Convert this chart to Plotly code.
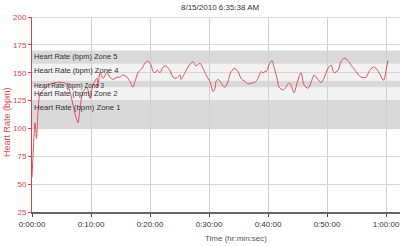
import plotly.graph_objects as go

# ---- data ----
time_sec = [0, 10, 25, 31, 46, 61, 81, 122, 183, 234, 285, 353, 386, 417, 447, 468, 488, 519, 559, 590,
            620, 661, 671, 692, 722, 763, 793, 824, 864, 895, 925, 966, 997, 1027, 1047, 1078, 1119, 1149,
            1180, 1210, 1231, 1251, 1271, 1302, 1332, 1363, 1403, 1434, 1464, 1505, 1515, 1556, 1586, 1637,
            1668, 1708, 1739, 1770, 1810, 1841, 1861, 1871, 1892, 1922, 1942, 1963, 1993, 2024, 2064, 2095,
            2125, 2166, 2197, 2227, 2268, 2298, 2329, 2349, 2369, 2390, 2410, 2441, 2461, 2492, 2512, 2553,
            2583, 2614, 2634, 2664, 2705, 2736, 2766, 2807, 2837, 2868, 2908, 2939, 2969, 3010, 3041, 3071,
            3112, 3142, 3173, 3214, 3244, 3295, 3346, 3397, 3427, 3468, 3498, 3529, 3570, 3580, 3600, 3620]
heart_rate = [56, 75, 100, 105, 91, 115, 131, 135, 139.5, 141, 141.5, 140, 133, 121, 110, 105, 118, 133, 137, 127,
              139, 145, 137, 150, 145, 150, 146, 144, 146, 146, 148, 146, 142, 137, 142, 150, 154, 158.7,
              160.5, 157, 151, 150, 152.4, 150, 155, 156, 152, 146, 145, 148, 144, 150, 155, 160,
              156, 158.7, 154, 148, 142, 133, 136, 142, 144, 141, 138, 137, 142, 151, 154, 151,
              145, 142, 140, 140.5, 141.5, 145, 151, 150, 151, 152, 157, 161, 155, 145, 137, 134.5,
              137, 141, 139, 132, 143.5, 150, 139, 136, 141, 148, 144, 141, 145, 154, 157, 150,
              152, 160, 163, 161, 157, 151, 146, 146, 151, 155, 154, 150, 143.5, 143.5, 152, 161]

zone_names = ["Heart Rate (bpm) Zone 1", "Heart Rate (bpm) Zone 2", "Heart Rate (bpm) Zone 3",
              "Heart Rate (bpm) Zone 4", "Heart Rate (bpm) Zone 5"]
zone_lo = [100, 125, 137, 143, 158]
zone_hi = [125, 137, 143, 158, 170]

x_tick_vals = [0, 600, 1200, 1800, 2400, 3000, 3600]
x_tick_text = ["0:00:00", "0:10:00", "0:20:00", "0:30:00", "0:40:00", "0:50:00", "1:00:00"]
y_tick_vals = [25, 50, 75, 100, 125, 150, 175, 200]

title_text = "8/15/2010 6:35:38 AM"
x_title = "Time (hr:min:sec)"
y_title = "Heart Rate (bpm)"

# ---- styling ----
RED = "#e0404c"
LINE_RED = "#e4505a"
FONT = "Liberation Sans"
zone_fill = ["#d9d9d9", "#f2f2f2", "#d9d9d9", "#f2f2f2", "#d9d9d9"]
zone_font = [7.8, 7.5, 6.3, 7.6, 7.5]

fig = go.Figure()
fig.add_trace(go.Scatter(x=time_sec, y=heart_rate, mode="lines",
                         line=dict(color=LINE_RED, width=1, shape="spline", smoothing=0.7),
                         hoverinfo="skip", showlegend=False))

for i, name in enumerate(zone_names):
    fig.add_shape(type="rect", xref="paper", x0=0, x1=1, yref="y", y0=zone_lo[i], y1=zone_hi[i],
                  fillcolor=zone_fill[i], line=dict(width=0), layer="below")
    fig.add_annotation(text=name, xref="paper", x=0, xanchor="left", xshift=0,
                       yref="y", y=zone_hi[i], yanchor="top", yshift=1 if zone_font[i] < 7 else 0,
                       showarrow=False, font=dict(family=FONT, size=zone_font[i], color="#333333"))

x_max = 3600 * 368 / 354

fig.add_annotation(text=title_text, xref="paper", yref="paper", x=(220 - 32) / 368, y=1,
                   yshift=10, xanchor="center", yanchor="middle", showarrow=False,
                   font=dict(family=FONT, size=8, color="#333333"))
fig.add_annotation(text=x_title, xref="paper", yref="paper", x=(236 - 32) / 368, y=0,
                   yshift=-26, xanchor="center", yanchor="middle", showarrow=False,
                   font=dict(family=FONT, size=8, color="#555555"))
fig.add_annotation(text=y_title, xref="paper", yref="paper", x=0, xshift=-25, y=(212 - 122) / 195,
                   xanchor="center", yanchor="middle", textangle=-90, showarrow=False,
                   font=dict(family=FONT, size=9, color=RED))

fig.update_layout(
    width=400, height=247,
    margin=dict(l=32, r=0, t=17, b=35),
    paper_bgcolor="white", plot_bgcolor="white",
    font=dict(family=FONT, size=8),
    xaxis=dict(range=[0, x_max], tickvals=x_tick_vals, ticktext=x_tick_text,
               showgrid=True, gridcolor="#cfcfcf", gridwidth=1,
               showline=True, linecolor="#666666", linewidth=2,
               ticks="outside", ticklen=3, tickcolor="#444444",
               tickfont=dict(family=FONT, size=8, color="#333333"), zeroline=False),
    yaxis=dict(range=[25, 200], tickvals=y_tick_vals,
               showgrid=True, gridcolor="#d6d6d6", gridwidth=1,
               showline=True, linecolor=RED, linewidth=1,
               ticks="outside", ticklen=3, tickcolor=RED,
               tickfont=dict(family=FONT, size=8, color=RED), zeroline=False),
)
# top border line at 200
fig.add_shape(type="line", xref="paper", x0=0, x1=1, yref="y", y0=200, y1=200,
              line=dict(color="#bbbbbb", width=1), layer="below")

fig.write_html("out.html")
